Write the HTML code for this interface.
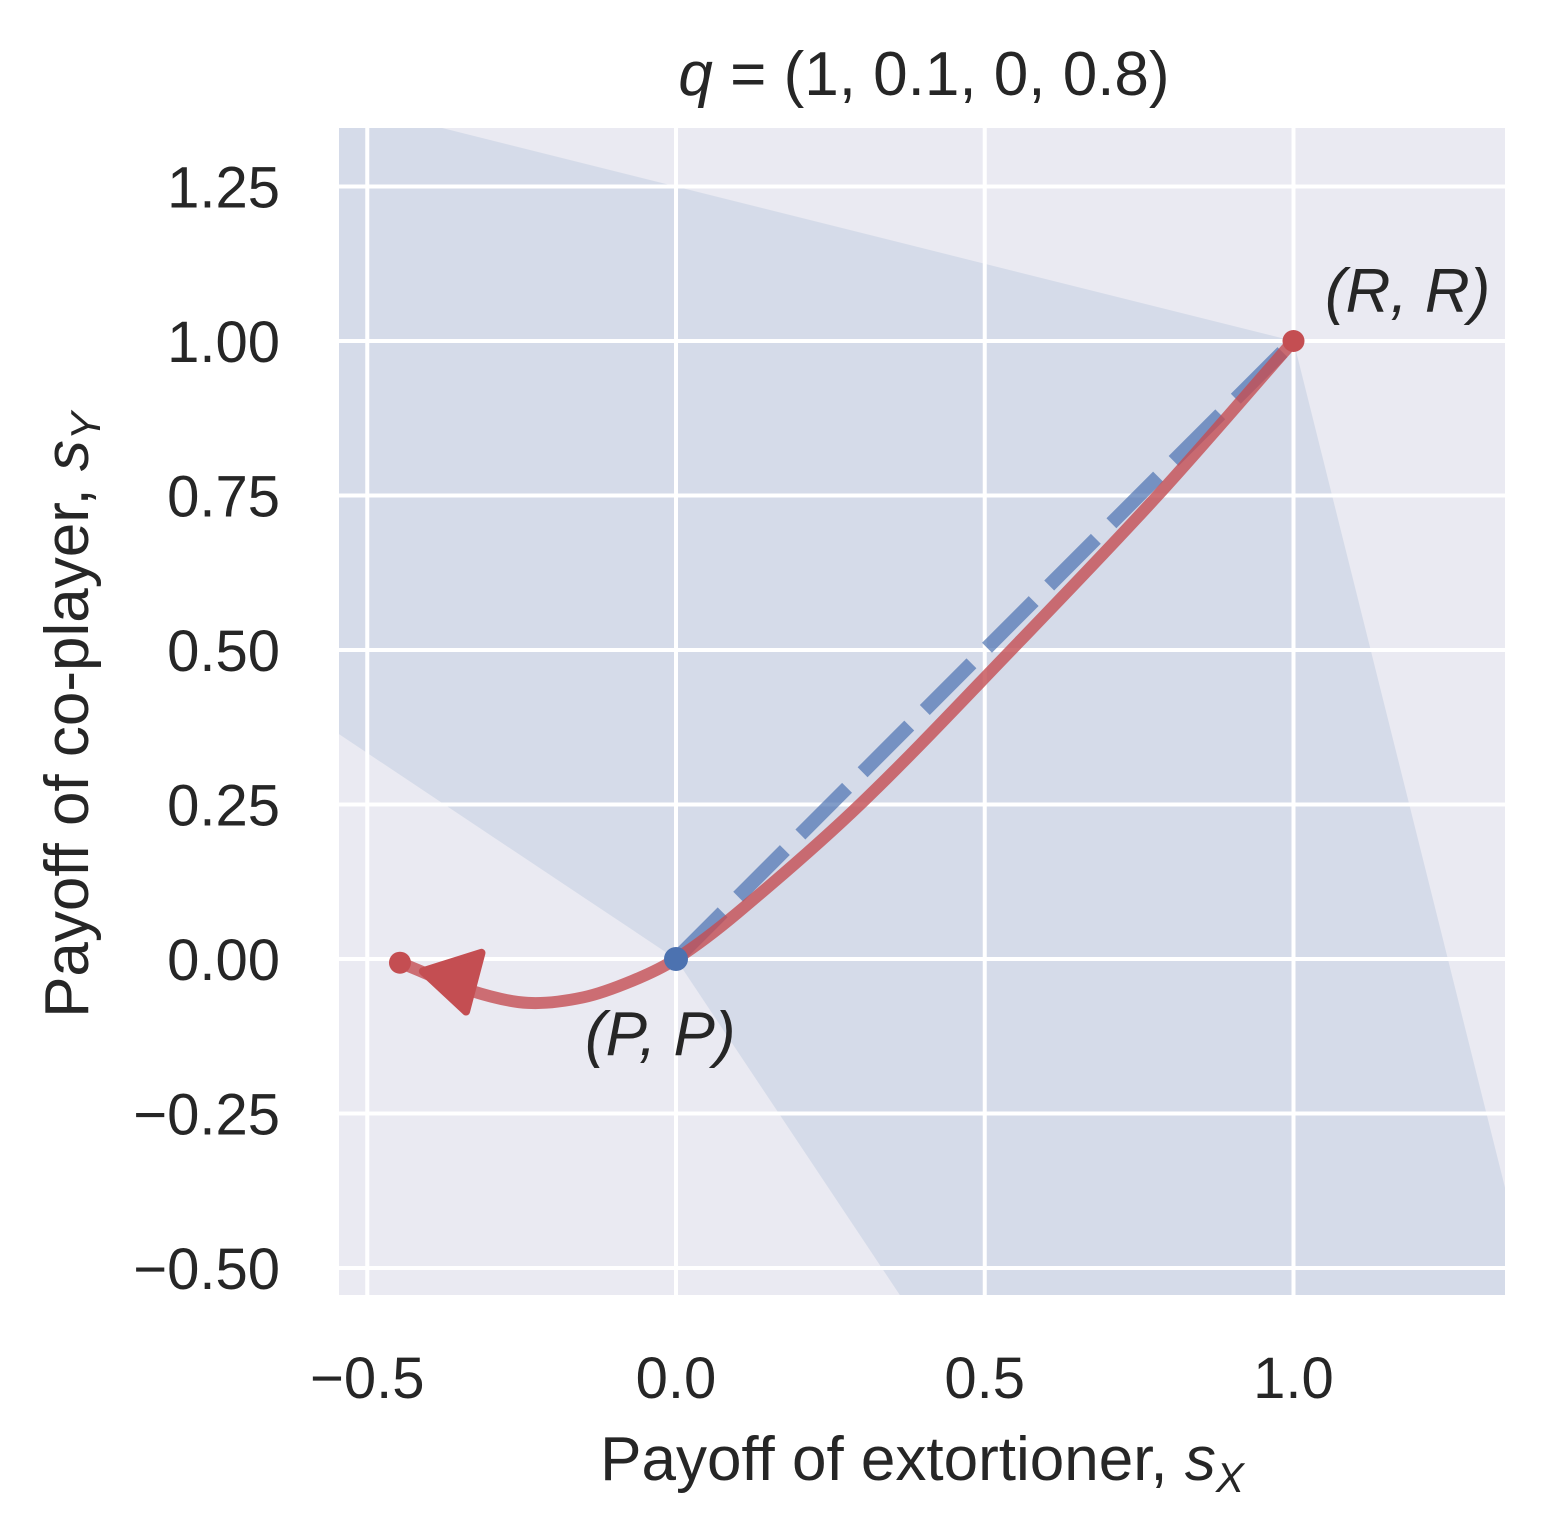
<!DOCTYPE html>
<html><head><meta charset="utf-8"><style>
html,body{margin:0;padding:0;background:#fff;overflow:hidden;width:1549px;height:1536px}
svg{display:block}
svg text{font-family:"Liberation Sans",Arial,sans-serif;fill:#262626}
</style></head><body>
<svg id="c" width="1549" height="1536" xmlns="http://www.w3.org/2000/svg">
<defs><clipPath id="clip"><rect x="339" y="128" width="1166" height="1167"/></clipPath></defs>
<rect x="339" y="128" width="1166" height="1167" fill="#eaeaf2"/>
<g id="region" clip-path="url(#clip)"></g>
<g id="grid" clip-path="url(#clip)"></g>
<g id="series" clip-path="url(#clip)"></g>
<g id="ticks"></g>
<text x="924" y="95" text-anchor="middle" font-size="62"><tspan font-style="italic">q</tspan> = (1, 0.1, 0, 0.8)</text>
<text x="922" y="1480" text-anchor="middle" font-size="62">Payoff of extortioner, <tspan font-style="italic">s</tspan><tspan font-style="italic" font-size="42" dy="12">X</tspan></text>
<text transform="translate(88,715) rotate(-90)" text-anchor="middle" font-size="62">Payoff of co-player, <tspan font-style="italic">s</tspan><tspan font-style="italic" font-size="42" dy="12">Y</tspan></text>
<text x="1325" y="312" font-size="62" font-style="italic">(R, R)</text>
<text x="585" y="1055" font-size="62" font-style="italic">(P, P)</text>
</svg>
<script>
const xTicks=[-0.5,0,0.5,1.0];
const xTickLabels=["\u22120.5","0.0","0.5","1.0"];
const yTicks=[-0.5,-0.25,0,0.25,0.5,0.75,1.0,1.25];
const yTickLabels=["\u22120.50","\u22120.25","0.00","0.25","0.50","0.75","1.00","1.25"];
const regionX=[1,-3,0,2];
const regionY=[1,2,0,-3];
const diagX=[0,1];
const diagY=[0,1];
const curveX=[1,0.78,0.543,0.298,0.1,0,-0.07,-0.15,-0.24,-0.33,-0.447];
const curveY=[1,0.75,0.5,0.25,0.075,0,-0.035,-0.062,-0.071,-0.052,-0.006];
const X=v=>676+v*617.5, Y=v=>959-v*618;
const NS="http://www.w3.org/2000/svg";
function mk(p,t,a){const e=document.createElementNS(NS,t);for(const k in a)e.setAttribute(k,a[k]);document.getElementById(p).appendChild(e);return e;}
let rp=mk('region','polygon',{points:regionX.map((x,i)=>X(x)+','+Y(regionY[i])).join(' '),fill:'#d5dbe9'});


xTicks.forEach((t,i)=>{
 let g=mk('grid','line',{x1:X(t),x2:X(t),y1:128,y2:1295,stroke:'#fff','stroke-width':4});
 
 
 let l=mk('ticks','text',{x:X(t),y:1398,'text-anchor':'middle','font-size':58});
 l.textContent=xTickLabels[i];
 
 
});
yTicks.forEach((t,i)=>{
 let g=mk('grid','line',{x1:339,x2:1505,y1:Y(t),y2:Y(t),stroke:'#fff','stroke-width':4});
 
 
 let l=mk('ticks','text',{x:280,y:Y(t)+21,'text-anchor':'end','font-size':58});
 l.textContent=yTickLabels[i];
 
 
});
let d=mk('series','line',{x1:X(diagX[0]),y1:Y(diagY[0]),x2:X(diagX[1]),y2:Y(diagY[1]),stroke:'#4c72b0','stroke-opacity':0.7,'stroke-width':14,'stroke-dasharray':'66 22'});


let pts=curveX.map((x,i)=>[X(x),Y(curveY[i])]);
const tan=pts.map((p,i)=>{const a=pts[Math.max(0,i-1)],b=pts[Math.min(pts.length-1,i+1)];const dx=b[0]-a[0],dy=b[1]-a[1],L=Math.hypot(dx,dy)||1;return [dx/L,dy/L];});
let dstr='M'+pts[0][0]+','+pts[0][1];
for(let i=1;i<pts.length;i++){const p1=pts[i-1],p2=pts[i];const s=Math.hypot(p2[0]-p1[0],p2[1]-p1[1])/3;
 dstr+=` C${p1[0]+tan[i-1][0]*s},${p1[1]+tan[i-1][1]*s} ${p2[0]-tan[i][0]*s},${p2[1]-tan[i][1]*s} ${p2[0]},${p2[1]}`;}
let c=mk('series','path',{d:dstr,fill:'none',stroke:'#c44e52','stroke-opacity':0.8,'stroke-width':12,'stroke-linecap':'round'});


let a=mk('series','polygon',{points:`${X(-0.41)},${Y(-0.02)} ${X(-0.315)},${Y(0.01)} ${X(-0.34)},${Y(-0.085)}`,fill:'#c44e52','stroke':'#c44e52','stroke-width':8,'stroke-linejoin':'round'});


let m1=mk('series','circle',{cx:X(curveX[0]),cy:Y(curveY[0]),r:11,fill:'#c44e52'});


let m2=mk('series','circle',{cx:X(curveX[curveX.length-1]),cy:Y(curveY[curveY.length-1]),r:11,fill:'#c44e52'});


let m3=mk('series','circle',{cx:X(0),cy:Y(0),r:12,fill:'#4c72b0'});


</script>
</body></html>
